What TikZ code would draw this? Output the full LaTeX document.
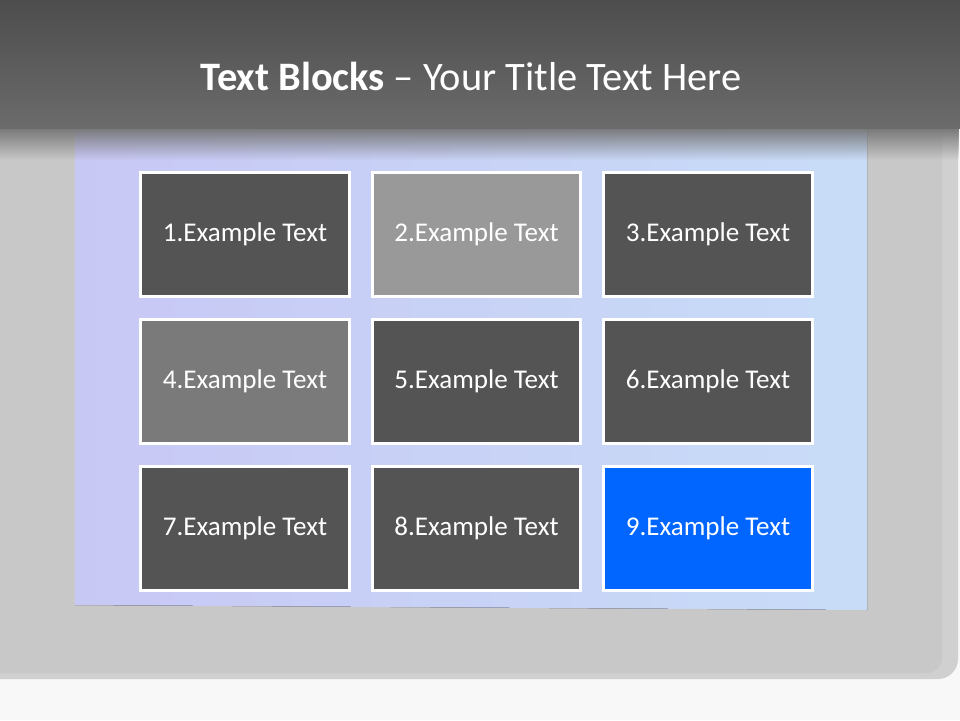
\documentclass[tikz,border=0pt]{standalone}
\usepackage{fontspec}
\setmainfont{Carlito}
\usepackage{tikz}
\usepackage{xcolor}
\definecolor{pageBack}{HTML}{F8F8F8}
\definecolor{panelGray}{HTML}{C8C8C8}
\definecolor{panelEdge}{HTML}{D0D0D0}
\definecolor{headTop}{HTML}{4D4D4D}
\definecolor{headBottom}{HTML}{6B6B6B}
\definecolor{sheetLeft}{HTML}{C8C8F5}
\definecolor{sheetRight}{HTML}{C8DCF7}
\definecolor{blockDark}{HTML}{545454}
\definecolor{blockLight}{HTML}{999999}
\definecolor{blockMid}{HTML}{7A7A7A}
\definecolor{blockBlue}{HTML}{0066FF}
\usetikzlibrary{fadings}

\tikzset{
  blockcell/.style={draw=white, line width=0.06cm, fill=blockDark, text=white,
    minimum width=4.18cm, minimum height=2.48cm, inner sep=0pt,
    font=\fontsize{15.4pt}{18pt}\selectfont},
  titletext/.style={text=white, font=\fontsize{23pt}{26pt}\selectfont}
}

\begin{document}
\begin{tikzpicture}[x=0.02cm, y=-0.02cm]
  \useasboundingbox (0,0) rectangle (960,720);
  \fill[pageBack] (0,0) rectangle (960,720);
  % grey frame
  \fill[panelEdge, rounded corners=0.4cm] (-40,-40) rectangle (958,679);
  \fill[panelGray, rounded corners=0.3cm] (-40,-40) rectangle (942,673);
  % blue sheet
  \fill[left color=sheetLeft, right color=sheetRight] (75,120) -- (867,120) -- (867,610) -- (75,605) -- cycle;
  % header bar and its shadow
  \fill[black!55, path fading=south] (0,126) rectangle (960,160);
  \fill[top color=headTop, bottom color=headBottom] (0,0) rectangle (960,128);
  \node[titletext] (title) at (471,76) {\textbf{Text Blocks} – Your Title Text Here};

  \node[blockcell] (block1) at (245,234.5) {1.Example Text};
  \node[blockcell, fill=blockLight] (block2) at (476.5,234.5) {2.Example Text};
  \node[blockcell] (block3) at (708,234.5) {3.Example Text};
  \node[blockcell, fill=blockMid] (block4) at (245,381.5) {4.Example Text};
  \node[blockcell] (block5) at (476.5,381.5) {5.Example Text};
  \node[blockcell] (block6) at (708,381.5) {6.Example Text};
  \node[blockcell] (block7) at (245,528.5) {7.Example Text};
  \node[blockcell] (block8) at (476.5,528.5) {8.Example Text};
  \node[blockcell, fill=blockBlue] (block9) at (708,528.5) {9.Example Text};
\end{tikzpicture}
\end{document}
